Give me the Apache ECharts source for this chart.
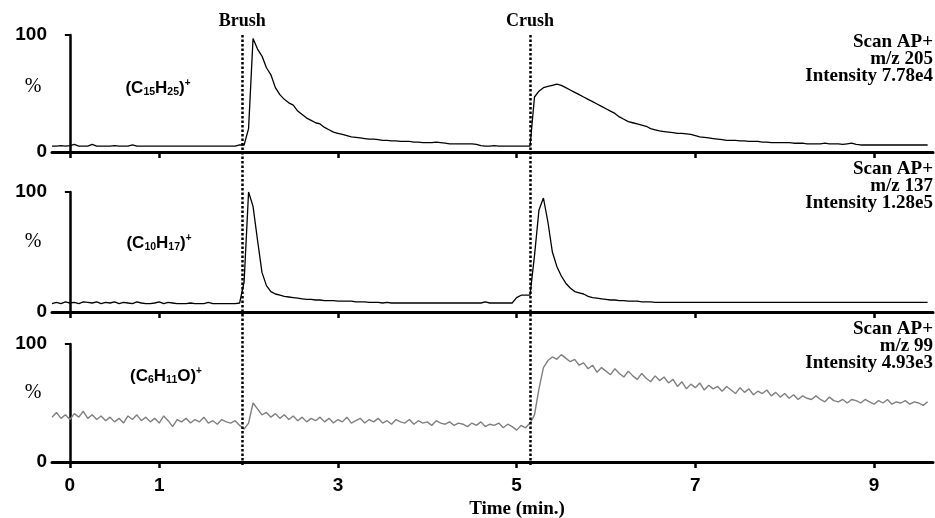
<!DOCTYPE html>
<html>
<head>
<meta charset="utf-8">
<script src="https://cdn.jsdelivr.net/npm/echarts@6/dist/echarts.min.js"></script>
<style>html,body{margin:0;padding:0;background:#fff;}#chart{width:935px;height:518px;}</style>
</head>
<body>
<div id="chart"></div>
<script>
// sampling: first time and step (min)
const T0 = -0.2;
const DT = 0.05;

// m/z 205 (% of 7.78e4)
const mz205 = [
  5, 5, 5.5, 5, 5.5, 6.5, 5, 5, 5, 6.5,        // -0.20..0.25
  5, 5, 5, 5, 5.5, 5, 5, 5, 6, 5,              // 0.30..0.75
  5, 5, 5, 5, 5, 5, 5, 5, 5, 5,                // 0.80..1.25
  5, 5, 5, 5, 5, 5, 5, 5, 5, 5,                // 1.30..1.75
  5, 5, 6, 6, 20, 97, 88, 82, 72, 66,          // 1.80..2.25
  55, 49, 45, 42, 40, 35, 32, 29, 27, 25,      // 2.30..2.75
  24, 21, 19, 17, 16, 15, 14, 13, 12.5, 12,    // 2.80..3.25
  11.5, 11, 11, 10.5, 10, 10, 9.5, 9.5, 9, 9,  // 3.30..3.75
  9, 8.5, 8.5, 8, 8, 8, 8.5, 8, 7.5, 7,        // 3.80..4.25
  7, 7, 7, 7, 7, 6.5, 5.5, 5, 5, 5.5,          // 4.30..4.75
  5, 5, 5, 5, 5, 5, 5, 5, 47, 52,              // 4.80..5.25
  55, 56, 57, 58, 57, 55, 53, 51, 49, 47,      // 5.30..5.75
  45, 43, 41, 39, 37, 35, 33, 30, 28, 26,      // 5.80..6.25
  25, 24, 23, 22, 20, 19, 18, 17.5, 17, 16.5,  // 6.30..6.75
  16, 16, 15.5, 15, 14, 13, 12.5, 12, 11.5, 11,// 6.80..7.25
  10.5, 10, 10, 10, 9.5, 9.5, 9, 9, 9, 8.5,    // 7.30..7.75
  8.5, 8, 8, 8, 8, 8, 7.5, 7.5, 7.5, 7,        // 7.80..8.25
  7, 7, 7, 7.5, 7, 7, 7, 6.5, 7, 7.5,          // 8.30..8.75
  6.5, 6, 6, 6, 6, 6, 6, 6, 6, 6,              // 8.80..9.25
  6, 6, 6, 6, 6, 6, 6                          // 9.30..9.60
];

// m/z 137 (% of 1.28e5)
const mz137 = [
  7, 8, 7, 8.5, 7.5, 8, 7, 8.5, 8, 7.5,
  8.5, 7, 8, 7.5, 8.5, 7, 8, 7.5, 7, 8.5,
  7.5, 7, 7, 7.5, 8.5, 7, 8, 7.5, 7, 7,
  7, 7.5, 7, 7, 7, 8, 7, 7, 7, 7,
  7, 7, 7.5, 25, 100, 88, 60, 33, 22, 17,
  15, 14, 13, 12.5, 12, 11.5, 11, 10.5, 10.5, 10,
  10, 9.5, 9.5, 9.5, 9, 9, 9, 9, 8.5, 8.5,
  8.5, 8, 8, 8, 7.5, 8, 7.5, 7.5, 7.5, 7.5,
  7.5, 7.5, 7.5, 7.5, 7.5, 7.5, 7.5, 7.5, 7.5, 7.5,
  7.5, 7.5, 7.5, 7.5, 7.5, 7.5, 7.5, 8.5, 7.5, 7.5,
  7.5, 7.5, 7.5, 7.5, 12, 14, 14, 14, 47, 85,
  95, 75, 50, 38, 30, 24, 20, 17, 16, 15,
  13, 12, 11.5, 11, 10.5, 10, 10, 9.5, 9.5, 9,
  9, 9, 8.5, 8.5, 8.5, 8, 8, 8, 8, 8,
  8, 8, 8, 8, 8, 8, 8, 8, 8, 8,
  8, 8, 8, 8, 8, 8, 8, 8, 8, 8,
  8, 8, 8, 8, 8, 8, 8, 8, 8, 8,
  8, 8, 8, 8, 8, 8, 8, 8, 8, 8,
  8, 8, 8, 8, 8, 8, 8, 8, 8, 8,
  8, 8, 8, 8, 8, 8, 8
];

// m/z 99 (% of 4.93e3)
const mz99 = [
  38, 42, 37, 40, 36, 41, 38, 43, 37, 40,
  36, 39, 35, 38, 34, 37, 33, 39, 36, 40,
  35, 38, 34, 37, 33, 39, 35, 30, 36, 34,
  37, 33, 36, 34, 38, 33, 35, 32, 36, 34,
  33, 35, 31, 28, 33, 50, 45, 40, 42, 38,
  41, 37, 40, 36, 39, 35, 38, 34, 37, 35,
  38, 34, 37, 33, 36, 34, 38, 33, 35, 37,
  33, 36, 34, 37, 33, 35, 32, 36, 34, 33,
  36, 32, 35, 33, 34, 31, 35, 33, 32, 34,
  31, 33, 32, 30, 33, 31, 34, 30, 32, 31,
  33, 29, 32, 30, 27, 31, 29, 33, 40, 62,
  80, 86, 89, 87, 91, 88, 85, 87, 82, 84,
  79, 82, 76, 80, 77, 74, 79, 75, 72, 77,
  73, 70, 75, 71, 68, 73, 69, 72, 67, 70,
  64, 68, 62, 66, 63, 67, 61, 65, 62, 64,
  60, 64, 61, 58, 63, 59, 62, 57, 60, 58,
  61, 56, 59, 55, 58, 54, 57, 53, 56, 54,
  53, 56, 53, 51, 55, 52, 51, 53, 50, 53,
  52, 50, 53, 51, 49, 52, 50, 53, 49, 51,
  50, 52, 49, 51, 50, 48, 51
];

const ions = ['(C{s|15}H{s|25}){p|+}', '(C{s|10}H{s|17}){p|+}', '(C{s|6}H{s|11}O){p|+}'];
const scanInfo = [
  'Scan AP+\nm/z 205\nIntensity 7.78e4',
  'Scan AP+\nm/z 137\nIntensity 1.28e5',
  'Scan AP+\nm/z 99\nIntensity 4.93e3'
];
const eventNames = ['Brush', 'Crush'];
const eventTimes = [1.93, 5.15];
const xTicks = [0, 1, 3, 5, 7, 9];
const yLabels = [0, 100];
const xName = 'Time (min.)';

const X_MIN = -0.2, X_MAX = 9.66;
const SERIF = '"Liberation Serif", "DejaVu Serif", serif';
const SANS = '"Liberation Sans", Arial, sans-serif';

function pairs(vals) {
  return vals.map((v, i) => [+(T0 + i * DT).toFixed(3), v]);
}

const gridsPos = [
  { top: 35, height: 117 },
  { top: 192, height: 120 },
  { top: 344, height: 118 }
];

const grid = gridsPos.map(g => ({ left: 52, right: 2, top: g.top, height: g.height }));
grid.push({ left: 52, right: 2, top: 33, height: 432 });

const xAxis = [0, 1, 2].map(i => ({
  gridIndex: i, type: 'value', min: X_MIN, max: X_MAX,
  axisLine: { show: true, onZero: false, lineStyle: { color: '#000', width: 3 } },
  axisTick: { show: true, customValues: xTicks, length: 6, lineStyle: { color: '#000', width: 2.5 } },
  axisLabel: i === 2 ? { show: true, customValues: xTicks, color: '#000', fontFamily: SANS, fontWeight: 'bold', fontSize: 19, margin: 14 } : { show: false },
  splitLine: { show: false }
}));
xAxis.push({ gridIndex: 3, type: 'value', min: X_MIN, max: X_MAX, show: false });

const yAxis = [0, 1, 2].map(i => ({
  gridIndex: i, type: 'value', min: 0, max: 100,
  axisLine: { show: true, lineStyle: { color: '#000', width: 2.5 } },
  axisTick: { show: true, customValues: [100], length: 5, lineStyle: { color: '#000', width: 2 } },
  axisLabel: { show: true, customValues: yLabels, color: '#000', fontFamily: SANS, fontWeight: 'bold', fontSize: 19, margin: 5 },
  splitLine: { show: false }
}));
yAxis.push({ gridIndex: 3, type: 'value', min: 0, max: 1, show: false });

const lineData = [mz205, mz137, mz99];
const lineColors = ['#000', '#000', '#808080'];
const series = lineData.map((d, i) => ({
  type: 'line', xAxisIndex: i, yAxisIndex: i, data: pairs(d),
  showSymbol: false, symbol: 'none', animation: false,
  lineStyle: { color: lineColors[i], width: i === 2 ? 1.4 : 1.3 }
}));
series.push({
  type: 'line', xAxisIndex: 3, yAxisIndex: 3, data: [], animation: false,
  markLine: {
    silent: true, symbol: ['none', 'none'], animation: false,
    lineStyle: { color: '#000', width: 2.5, type: [2.5, 2] },
    label: { show: true, position: 'end', distance: 3, color: '#000', fontFamily: SERIF, fontWeight: 'bold', fontSize: 18, formatter: p => p.name },
    data: eventTimes.map((t, k) => ({ xAxis: t, name: eventNames[k] }))
  }
});

const ionPos = [{ x: 158, y: 78 }, { x: 159, y: 233 }, { x: 166, y: 366 }];
const pctY = [87, 242, 393];
const infoTop = [34, 161, 321];
const richIon = {
  s: { fontSize: 10.5, fontWeight: 'bold', fontFamily: SANS, color: '#000', verticalAlign: 'bottom', lineHeight: 20, padding: [7, 0, 0, 0] },
  p: { fontSize: 10, fontWeight: 'bold', fontFamily: SANS, color: '#000', verticalAlign: 'top', lineHeight: 20, padding: [0, 0, 7, 0] }
};

const title = [];
ions.forEach((t, i) => {
  title.push({ text: t, left: ionPos[i].x, top: ionPos[i].y, textAlign: 'center', padding: 0,
    textStyle: { fontFamily: SANS, fontWeight: 'bold', fontSize: 17, color: '#000', lineHeight: 20, rich: richIon } });
  title.push({ text: '%', left: 33, top: pctY[i] - 10, textAlign: 'center', padding: 0,
    textStyle: { fontFamily: SERIF, fontWeight: 'normal', fontSize: 20, color: '#000' } });
  title.push({ text: scanInfo[i], left: 933, top: infoTop[i], textAlign: 'right', padding: 0,
    textStyle: { fontFamily: SERIF, fontWeight: 'bold', fontSize: 19, lineHeight: 17, color: '#000', align: 'right' } });
});
title.push({ text: xName, left: 517, top: 500, textAlign: 'center', padding: 0,
  textStyle: { fontFamily: SERIF, fontWeight: 'bold', fontSize: 19, color: '#000' } });

const chart = echarts.init(document.getElementById('chart'), null, { renderer: 'canvas' });
chart.setOption({ animation: false, backgroundColor: '#fff', title, grid, xAxis, yAxis, series });
</script>
</body>
</html>
